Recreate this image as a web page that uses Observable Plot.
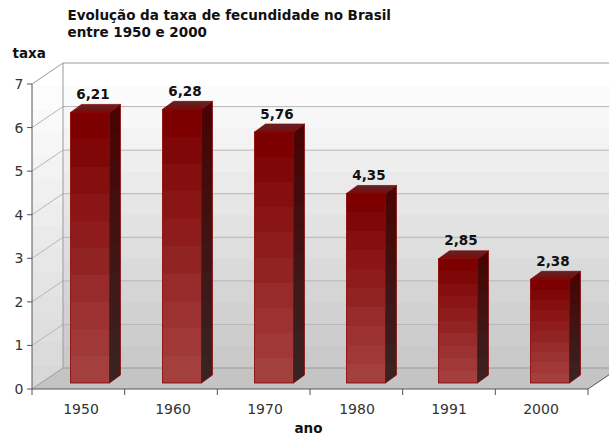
<!DOCTYPE html>
<html><head><meta charset="utf-8">
<script src="https://cdn.jsdelivr.net/npm/d3@7"></script>
<script src="https://cdn.jsdelivr.net/npm/@observablehq/plot@0.6"></script>
<style>html,body{margin:0;padding:0;background:#fff;} #chart svg{display:block;}</style>
</head><body><div id="chart"></div>
<script>
// ---- data ----
const years = ["1950", "1960", "1970", "1980", "1991", "2000"];
const rates = [6.21, 6.28, 5.76, 4.35, 2.85, 2.38];
const yTicks = [0, 1, 2, 3, 4, 5, 6, 7];
const titleLines = ["Evolução da taxa de fecundidade no Brasil", "entre 1950 e 2000"];
const yLabel = "taxa";
const xLabel = "ano";

const data = years.map((year, i) => ({year, rate: rates[i]}));
const fmt = v => v.toFixed(2).replace(".", ",");

// ---- 3D geometry / styles ----
const WALL_DX = 31, WALL_DY = -21;
const BAR_X = 9.5, BAR_Y = -6;
const BAR_DX = 11, BAR_DY = -8;
const FONT = "DejaVu Sans";

function stepped(lg, c0, c1, n) {
  const ip = d3.interpolateRgb(c0, c1);
  for (let k = 0; k < n; k++) {
    const c = ip(k / (n - 1));
    lg.append("stop").attr("offset", k / n).attr("stop-color", c);
    lg.append("stop").attr("offset", (k + 1) / n).attr("stop-color", c);
  }
}

function defsMark() {
  const defs = d3.create("svg:defs");
  const lin = (id, x2, y2) => defs.append("linearGradient").attr("id", id)
    .attr("x1", 0).attr("y1", 0).attr("x2", x2).attr("y2", y2);
  stepped(lin("wallGrad", 0, 1), "#ffffff", "#c9c9c9", 14);
  stepped(lin("leftWallGrad", 0, 1), "#ffffff", "#d8d8d8", 14);
  stepped(lin("barFront", 0, 1), "#7c0000", "#a43f3f", 10);
  stepped(lin("barSide", 0, 1), "#480404", "#3a2222", 10);
  const t = lin("barTop", 0, 1);
  t.append("stop").attr("offset", 0).attr("stop-color", "#5e2626");
  t.append("stop").attr("offset", 1).attr("stop-color", "#7c0a0a");
  return defs.node();
}

function frame3d(index, scales) {
  const {x, y} = scales;
  const [x0, x1] = x.range();
  const y0 = y(0), yT = y(d3.max(yTicks));
  const g = d3.create("svg:g");
  g.append("rect").attr("x", x0 + WALL_DX).attr("y", yT + WALL_DY)
    .attr("width", x1 - x0 + 40).attr("height", y0 - yT).attr("fill", "url(#wallGrad)");
  g.append("path").attr("d", `M${x0},${y0}L${x0},${yT}L${x0 + WALL_DX},${yT + WALL_DY}L${x0 + WALL_DX},${y0 + WALL_DY}Z`)
    .attr("fill", "url(#leftWallGrad)");
  g.append("path").attr("d", `M${x0},${y0}L${x1},${y0}L${x1 + WALL_DX},${y0 + WALL_DY}L${x0 + WALL_DX},${y0 + WALL_DY}Z`)
    .attr("fill", "#c4c4c4");
  for (const t of yTicks) {
    const yy = y(t);
    g.append("path").attr("d", `M${x0},${yy}L${x0 + WALL_DX},${yy + WALL_DY}L${x1 + WALL_DX + 40},${yy + WALL_DY}`)
      .attr("fill", "none").attr("stroke", t === 0 || t === d3.max(yTicks) ? "#9a9a9a" : "#b6b6b6").attr("stroke-width", 1);
  }
  g.append("line").attr("x1", x0 + WALL_DX).attr("x2", x0 + WALL_DX).attr("y1", yT + WALL_DY).attr("y2", y0 + WALL_DY)
    .attr("stroke", "#9a9a9a");
  g.append("line").attr("x1", x0).attr("x2", x0).attr("y1", yT).attr("y2", y0).attr("stroke", "#555");
  g.append("line").attr("x1", x0).attr("x2", x1).attr("y1", y0).attr("y2", y0).attr("stroke", "#555");
  g.append("line").attr("x1", x1).attr("x2", x1 + WALL_DX).attr("y1", y0).attr("y2", y0 + WALL_DY).attr("stroke", "#555");
  for (const t of yTicks) {
    g.append("line").attr("x1", x0 - 5).attr("x2", x0).attr("y1", y(t)).attr("y2", y(t)).attr("stroke", "#555");
  }
  const n = x.domain().length, step = (x1 - x0) / n;
  for (let k = 0; k <= n; k++) {
    g.append("line").attr("x1", x0 + k * step).attr("x2", x0 + k * step).attr("y1", y0).attr("y2", y0 + 6).attr("stroke", "#555");
  }
  return g.node();
}

function barDepth(index, scales) {
  const {x, y} = scales;
  const bw = x.bandwidth();
  const g = d3.create("svg:g");
  for (const d of data) {
    const xs = x(d.year) + BAR_X, xe = xs + bw;
    const yt = y(d.rate) + BAR_Y, yb = y(0) + BAR_Y;
    g.append("path").attr("d", `M${xe},${yt}L${xe + BAR_DX},${yt + BAR_DY}L${xe + BAR_DX},${yb + BAR_DY}L${xe},${yb}Z`)
      .attr("fill", "url(#barSide)").attr("stroke", "#8a0000").attr("stroke-width", 0.7);
    g.append("path").attr("d", `M${xs},${yt}L${xs + BAR_DX},${yt + BAR_DY}L${xe + BAR_DX},${yt + BAR_DY}L${xe},${yt}Z`)
      .attr("fill", "url(#barTop)").attr("stroke", "#8a0000").attr("stroke-width", 0.7);
  }
  return g.node();
}

const chart = Plot.plot({
  width: 609,
  height: 436,
  marginLeft: 32,
  marginRight: 21,
  marginTop: 84,
  marginBottom: 47,
  style: {fontFamily: FONT, background: "#fff", overflow: "visible"},
  x: {type: "band", domain: years, paddingInner: 0.58, paddingOuter: 0.29, axis: null},
  y: {domain: [0, 7], axis: null},
  marks: [
    defsMark,
    frame3d,
    barDepth,
    Plot.barY(data, {x: "year", y: "rate", dx: BAR_X, dy: BAR_Y, fill: "url(#barFront)", stroke: "#8a0000", strokeWidth: 0.8}),
    Plot.text(data, {x: "year", y: "rate", text: d => fmt(d.rate), dx: 12, dy: -20, lineAnchor: "bottom",
      fontWeight: "bold", fontSize: 13.5, fill: "#111"}),
    Plot.text(yTicks, {y: d => d, text: d => String(d), frameAnchor: "left", dx: -9, textAnchor: "end",
      fontSize: 14, fill: "#333"}),
    Plot.text(years, {x: d => d, text: d => d, frameAnchor: "bottom", dy: 24, lineAnchor: "bottom",
      fontSize: 14, fill: "#333"}),
    Plot.text([titleLines.join("\n")], {text: d => d, frameAnchor: "top-left", dx: 35, dy: -48, lineAnchor: "bottom",
      textAnchor: "start", lineHeight: 1.2, fontWeight: "bold", fontSize: 13.5, fill: "#111"}),
    Plot.text([yLabel], {text: d => d, frameAnchor: "top-left", dx: -20, dy: -27, lineAnchor: "bottom",
      textAnchor: "start", fontWeight: "bold", fontSize: 13.5, fill: "#111"}),
    Plot.text([xLabel], {text: d => d, frameAnchor: "bottom", dx: -2, dy: 43, lineAnchor: "bottom",
      fontWeight: "bold", fontSize: 13.5, fill: "#111"})
  ]
});
document.getElementById("chart").appendChild(chart);
</script>
</body></html>
